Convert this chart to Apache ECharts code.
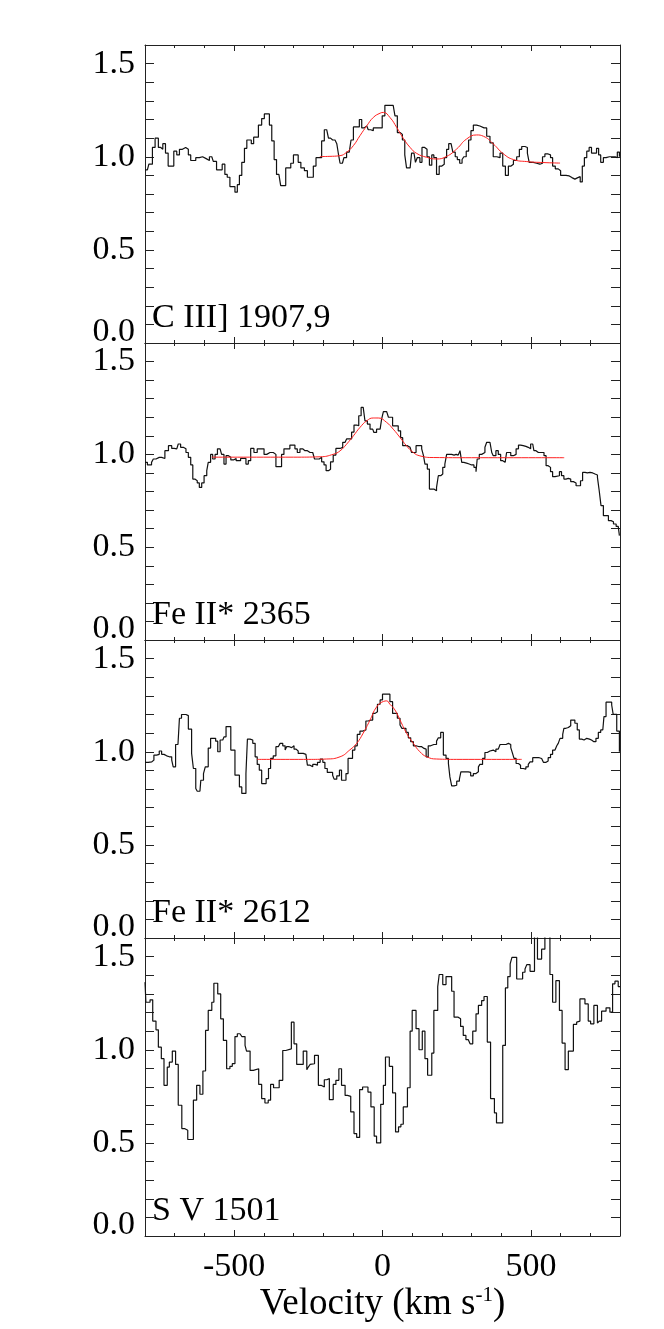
<!DOCTYPE html>
<html>
<head>
<meta charset="utf-8">
<script src="https://cdn.jsdelivr.net/npm/echarts@6/dist/echarts.min.js"></script>
<style>html,body{margin:0;padding:0;background:#fff;}#c{width:664px;height:1329px;}</style>
</head>
<body>
<div id="c"></div>
<script>
// ---------- DATA ----------
const panelLabels = ['C III] 1907,9', 'Fe II* 2365', 'Fe II* 2612', 'S V 1501'];
const xTickLabels = [-500, 0, 500];
const yTickLabels = [0, 0.5, 1.0, 1.5];

const p1Vel = [-800,-792,-787,-775,-766,-755,-747,-740,-731,-722,-710,-703,-693,-684,-674,-663,-654,-646,-637,-629,-617,-606,-594,-583,-575,-570,-559,-547,-540,-531,-523,-514,-505,-497,-489,-482,-474,-465,-457,-449,-442,-434,-426,-418,-407,-398,-389,-381,-373,-365,-357,-349,-343,-334,-326,-317,-309,-300,-291,-284,-275,-263,-253,-242,-233,-224,-213,-205,-196,-188,-182,-175,-168,-160,-154,-149,-143,-135,-130,-121,-112,-106,-98,-87,-78,-70,-62,-53,-48,-40,-31,-17,-8,-1,8,23,36,42,50,59,67,75,81,93,98,106,111,117,126,133,142,150,158,166,173,182,191,200,208,216,223,231,237,245,252,260,268,274,282,290,298,306,317,328,342,351,362,373,385,396,405,414,424,433,441,452,461,469,480,488,494,508,519,530,539,547,558,566,573,582,592,600,609,618,629,638,648,658,666,673,680,688,696,704,712,721,728,735,744,753,764,775,784,791,798];
const p1Flux = [0.93,0.92,0.96,1.05,1.10,1.05,1.04,1.07,1.02,0.95,0.95,1.03,1.01,1.04,1.05,1.04,1.01,0.98,0.98,0.995,1.0,0.99,0.98,1.0,1.0,0.975,0.93,0.93,0.96,0.905,0.89,0.84,0.84,0.81,0.85,0.90,0.97,1.045,1.09,1.09,1.07,1.105,1.105,1.17,1.205,1.23,1.23,1.17,1.085,0.985,0.905,0.905,0.845,0.845,0.94,0.94,0.965,1.01,1.01,0.97,0.94,0.925,0.89,0.89,0.95,0.995,0.995,1.085,1.145,1.145,1.10,1.09,1.09,1.085,1.07,1.02,0.965,0.965,0.995,1.025,1.025,1.09,1.16,1.16,1.2,1.155,1.165,1.165,1.145,1.14,1.155,1.155,1.155,1.22,1.276,1.276,1.276,1.22,1.13,1.12,1.09,1.01,0.94,0.94,1.02,1.02,0.97,0.995,0.97,1.05,1.04,1.0,0.955,1.01,0.995,0.905,0.95,0.96,0.995,1.04,1.07,1.07,1.025,1.0,0.985,0.965,0.985,1.0,1.03,1.09,1.14,1.17,1.165,1.155,1.155,1.11,1.075,1.0,0.995,1.02,0.95,0.9,0.95,0.96,0.98,1.0,1.04,1.055,1.05,1.02,0.97,0.965,0.96,0.965,1.0,1.015,1.01,0.995,0.95,0.935,0.925,0.9,0.9,0.897,0.888,0.88,0.888,0.893,0.865,0.95,0.995,1.03,1.05,1.02,1.02,1.045,1.01,0.97,0.995,1.0,1.0,1.0,0.995,1.025,1.0];
const p1FitVel = [-211,-180,-143,-121,-98,-76,-53,-31,-8,3,25,48,70,93,115,149,182,216,250,283,317,340,373,407,441,486,540,598];
const p1FitFlux = [1.001,1.002,1.006,1.024,1.06,1.113,1.166,1.211,1.234,1.238,1.211,1.157,1.099,1.05,1.018,0.997,0.988,1.002,1.042,1.095,1.117,1.11,1.069,1.016,0.985,0.974,0.969,0.966];

const p2Vel = [-800,-792,-778,-772,-763,-752,-744,-733,-721,-710,-702,-693,-688,-680,-671,-662,-654,-646,-639,-632,-624,-617,-609,-601,-592,-587,-579,-572,-564,-556,-547,-542,-534,-527,-519,-511,-502,-493,-486,-478,-467,-460,-452,-444,-433,-422,-410,-399,-390,-379,-368,-359,-347,-340,-332,-321,-312,-303,-295,-287,-278,-269,-261,-253,-244,-235,-229,-222,-213,-205,-197,-190,-182,-175,-166,-157,-143,-134,-126,-121,-112,-104,-96,-87,-80,-72,-65,-59,-51,-42,-33,-29,-20,-8,-3,3,14,20,27,34,45,53,61,68,76,84,93,98,106,113,124,132,138,143,151,158,166,173,182,188,196,203,210,216,225,233,241,248,255,261,267,274,283,292,300,308,315,319,326,334,345,351,362,368,373,382,390,398,405,413,418,424,432,441,450,458,465,474,483,491,499,506,510,517,525,536,544,551,558,566,573,581,587,596,603,611,618,626,634,643,652,660,667,674,682,690,699,708,716,724,730,736,744,753,761,770,778,787,794,798];
const p2Flux = [0.957,0.943,0.957,0.975,0.984,0.984,0.978,1.02,1.047,1.032,1.03,1.03,1.056,1.038,1.03,1.01,0.984,0.943,0.867,0.858,0.846,0.822,0.846,0.885,0.912,0.957,1.0,0.975,1.0,1.03,1.038,1.0,0.948,0.993,0.984,0.97,0.978,0.966,0.966,0.978,0.978,0.948,0.966,1.032,1.01,1.03,1.03,1.0,1.01,1.01,1.0,0.934,0.934,1.0,1.03,1.03,1.05,1.05,1.03,1.01,1.03,1.02,1.02,1.01,1.01,1.01,0.975,0.975,0.984,0.96,0.943,0.912,0.92,0.96,0.996,1.032,1.038,1.065,1.065,1.083,1.083,1.12,1.158,1.154,1.208,1.253,1.253,1.18,1.163,1.136,1.136,1.118,1.136,1.136,1.19,1.23,1.23,1.2,1.2,1.154,1.154,1.127,1.09,1.047,1.047,1.038,1.038,1.01,1.01,1.047,1.047,1.03,0.993,0.948,0.921,0.813,0.813,0.804,0.822,0.885,0.894,0.93,0.948,1.0,1.0,0.996,1.0,0.996,1.0,1.02,0.957,0.953,0.948,0.943,0.943,0.93,0.907,0.975,1.0,1.01,1.038,1.065,1.065,1.01,0.993,1.02,1.0,0.966,0.957,0.957,1.01,1.01,0.993,1.0,1.03,1.05,1.047,1.043,1.038,1.03,1.056,1.065,1.02,1.01,1.01,1.01,0.993,0.939,0.93,0.907,0.88,0.876,0.885,0.907,0.885,0.867,0.871,0.867,0.853,0.846,0.831,0.831,0.858,0.903,0.9,0.903,0.9,0.894,0.889,0.876,0.804,0.724,0.67,0.67,0.643,0.637,0.625,0.612,0.607,0.562];
const p2FitVel = [-575,-300,-210,-165,-143,-121,-98,-76,-53,-31,-14,14,36,59,81,104,126,171,300,612];
const p2FitFlux = [0.985,0.985,0.987,1.001,1.019,1.055,1.1,1.145,1.181,1.196,1.196,1.172,1.136,1.091,1.046,1.01,0.992,0.983,0.982,0.982];

const p3Vel = [-800,-789,-777,-770,-761,-752,-744,-736,-727,-718,-710,-705,-697,-689,-684,-677,-669,-662,-654,-648,-643,-637,-629,-624,-615,-612,-603,-597,-587,-579,-570,-562,-555,-547,-538,-534,-527,-518,-511,-505,-497,-489,-482,-474,-467,-460,-455,-446,-437,-429,-422,-415,-407,-399,-392,-384,-377,-368,-359,-351,-345,-336,-328,-323,-314,-306,-298,-291,-284,-276,-267,-258,-253,-244,-235,-227,-219,-210,-201,-194,-186,-177,-168,-163,-154,-145,-138,-130,-123,-116,-110,-101,-93,-85,-76,-67,-56,-48,-40,-33,-25,-17,-8,0,8,16,25,34,42,50,59,65,72,79,87,95,104,113,124,132,140,147,154,162,173,182,188,196,200,205,214,222,227,233,241,250,259,264,272,281,289,297,306,315,323,328,337,345,353,362,373,382,390,396,405,416,424,432,438,443,450,458,465,474,483,491,497,506,517,528,536,542,551,558,566,573,581,587,592,598,607,611,618,626,634,640,648,656,663,671,679,688,697,704,712,719,727,735,742,746,753,764,772,777,783,789,794,798];
const p3Flux = [0.943,0.946,0.955,0.982,0.986,1.004,0.986,0.978,0.973,0.973,0.955,0.919,1.039,1.039,1.18,1.2,1.2,1.194,1.122,1.122,0.991,0.91,0.803,0.788,0.788,0.847,0.883,0.919,1.02,1.072,1.072,1.057,1.0,1.063,1.063,1.08,1.135,1.135,1.009,1.009,0.874,0.874,0.811,0.776,0.776,0.883,1.068,1.063,1.045,0.973,0.932,0.901,0.829,0.829,0.856,0.91,0.964,0.978,1.027,1.027,1.045,1.032,1.009,1.027,1.022,1.032,1.014,1.004,0.991,0.991,0.986,0.982,0.928,0.919,0.932,0.928,0.943,0.96,0.943,0.91,0.889,0.889,0.874,0.853,0.871,0.901,0.847,0.847,0.883,0.964,0.964,1.009,1.032,1.093,1.111,1.117,1.165,1.17,1.17,1.206,1.215,1.255,1.278,1.309,1.309,1.309,1.269,1.206,1.206,1.18,1.144,1.126,1.126,1.104,1.075,1.054,1.032,1.027,1.027,1.018,1.014,0.973,1.032,1.039,1.039,1.057,1.075,1.104,1.104,0.982,0.964,0.937,0.865,0.817,0.82,0.842,0.853,0.892,0.892,0.892,0.889,0.871,0.883,0.892,0.919,0.932,0.964,0.996,1.004,1.009,1.0,1.014,1.022,1.039,1.039,1.045,1.039,1.022,0.991,0.964,0.937,0.928,0.91,0.907,0.919,0.932,0.946,0.968,0.968,0.964,0.955,0.943,0.95,0.968,0.986,1.009,1.014,1.032,1.045,1.072,1.093,1.126,1.13,1.14,1.17,1.17,1.153,1.117,1.068,1.063,1.072,1.068,1.063,1.054,1.054,1.072,1.104,1.117,1.117,1.189,1.266,1.266,1.251,1.201,1.201,1.111,1.111,1.0];
const p3FitVel = [-422,-250,-188,-143,-110,-87,-65,-42,-20,3,14,25,42,59,81,104,126,149,182,250,469];
const p3FitFlux = [0.959,0.959,0.961,0.973,1.01,1.045,1.1,1.17,1.24,1.27,1.273,1.255,1.224,1.17,1.1,1.045,1.0,0.973,0.961,0.959,0.959];

const p4Vel = [-800,-797,-783,-774,-763,-755,-745,-736,-725,-718,-708,-697,-688,-676,-667,-656,-637,-626,-615,-605,-596,-587,-575,-568,-555,-545,-536,-525,-514,-506,-497,-489,-480,-474,-463,-458,-446,-435,-429,-417,-407,-396,-385,-377,-367,-348,-336,-326,-321,-307,-298,-289,-267,-255,-250,-244,-239,-229,-216,-207,-196,-188,-179,-166,-157,-147,-138,-126,-118,-107,-96,-87,-77,-67,-49,-39,-28,-20,-6,3,10,23,34,44,54,62,70,84,93,100,113,123,134,143,152,166,173,186,191,203,214,233,241,255,263,272,281,289,295,304,315,323,334,342,353,364,377,384,405,414,422,430,436,452,472,480,486,497,512,522,536,547,564,573,584,596,605,615,626,643,654,660,665,682,693,701,712,724,730,738,753,766,775,783,794,800];
const p4Flux = [1.363,1.255,1.268,1.154,1.107,1.014,0.952,0.809,0.907,0.934,0.993,0.921,0.702,0.577,0.568,0.518,0.729,0.809,0.761,0.886,1.104,1.211,1.255,1.357,1.3,1.166,1.05,0.898,0.911,0.925,1.071,1.086,1.091,1.071,1.023,0.993,0.889,0.886,0.898,0.814,0.738,0.714,0.729,0.814,0.796,0.836,0.996,0.988,1.005,1.148,1.032,0.921,0.993,0.893,0.907,0.921,0.925,0.97,0.809,0.8,0.839,0.845,0.732,0.814,0.836,0.898,0.809,0.755,0.75,0.666,0.55,0.529,0.786,0.8,0.773,0.693,0.536,0.5,0.707,0.809,0.961,0.911,0.768,0.559,0.586,0.6,0.693,0.796,1.1,1.211,1.113,1.0,1.1,0.952,0.863,0.982,1.211,1.339,1.404,1.35,1.393,1.314,1.175,1.166,1.125,1.077,1.054,1.046,1.032,1.1,1.193,1.238,1.264,1.286,1.041,0.738,0.661,0.607,1.023,1.332,1.393,1.461,1.496,1.38,1.416,1.434,1.457,1.421,1.7,1.487,1.54,1.7,1.404,1.255,1.371,1.211,1.036,0.893,0.993,1.136,1.148,1.154,1.273,1.246,1.154,1.139,1.238,1.143,1.154,1.207,1.225,1.202,1.354,1.368,1.339,1.339];

const spectra = [[p1Vel, p1Flux], [p2Vel, p2Flux], [p3Vel, p3Flux], [p4Vel, p4Flux]];
const fits = [[p1FitVel, p1FitFlux], [p2FitVel, p2FitFlux], [p3FitVel, p3FitFlux], null];

// ---------- LAYOUT ----------
const FONT = '"Liberation Serif", "Times New Roman", serif';
const gridTops = [45, 343, 640, 938];
const gridHeights = [298, 297, 298, 298];
const GL = 145, GW = 475;
const axisCol = '#222';

const chart = echarts.init(document.getElementById('c'), null, {renderer: 'canvas'});

const grids = [], xAxes = [], yAxes = [], series = [], graphics = [];
for (let i = 0; i < 4; i++) {
  grids.push({left: GL, top: gridTops[i], width: GW, height: gridHeights[i], containLabel: false});
  const isLast = i === 3;
  const common = {gridIndex: i, type: 'value', min: -800, max: 800, splitLine: {show: false}};
  xAxes.push(Object.assign({}, common, {
    position: 'bottom', interval: 100,
    axisLine: {show: true, onZero: false, lineStyle: {color: axisCol, width: 1}},
    axisTick: {show: true, inside: true, length: 3, lineStyle: {color: axisCol, width: 1}},
    axisLabel: {show: isLast, margin: 14, fontSize: 34, fontFamily: FONT, color: '#000',
      formatter: v => xTickLabels.indexOf(v) >= 0 ? String(v) : ''},
    name: isLast ? '{a|Velocity (km s}{b|-1}{a|)}' : '',
    nameLocation: 'middle', nameGap: 45,
    nameTextStyle: {rich: {
      a: {fontSize: 37, fontFamily: FONT, color: '#000'},
      b: {fontSize: 21, fontFamily: FONT, color: '#000', padding: [0, 0, 17, 0]}
    }}
  }));
  xAxes.push(Object.assign({}, common, {
    position: 'bottom',
    axisLine: {show: false, onZero: false},
    axisTick: {show: true, inside: true, length: 6, customValues: xTickLabels, lineStyle: {color: axisCol, width: 1}},
    axisLabel: {show: false}
  }));
  xAxes.push(Object.assign({}, common, {
    position: 'top', interval: 100,
    axisLine: {show: true, onZero: false, lineStyle: {color: axisCol, width: 1}},
    axisTick: {show: true, inside: true, length: 3, lineStyle: {color: axisCol, width: 1}},
    axisLabel: {show: false}
  }));
  xAxes.push(Object.assign({}, common, {
    position: 'top',
    axisLine: {show: false, onZero: false},
    axisTick: {show: true, inside: true, length: 6, customValues: xTickLabels, lineStyle: {color: axisCol, width: 1}},
    axisLabel: {show: false}
  }));
  const ycommon = {gridIndex: i, type: 'value', min: 0, max: 1.6, interval: 0.1, splitLine: {show: false}};
  yAxes.push(Object.assign({}, ycommon, {
    position: 'left',
    axisLine: {show: true, onZero: false, lineStyle: {color: axisCol, width: 1}},
    axisTick: {show: true, inside: true, length: 9, lineStyle: {color: axisCol, width: 1}},
    axisLabel: {show: true, margin: 10, fontSize: 34, fontFamily: FONT, color: '#000',
      formatter: v => {
        const hit = yTickLabels.find(t => Math.abs(t - v) < 1e-6);
        if (hit === undefined) return '';
        if (hit === 0) return '{z|0.0}';
        return hit.toFixed(1);
      },
      rich: {z: {fontSize: 34, fontFamily: FONT, color: '#000', padding: [0, 0, 22, 0]}}
    }
  }));
  yAxes.push(Object.assign({}, ycommon, {
    position: 'right',
    axisLine: {show: true, onZero: false, lineStyle: {color: axisCol, width: 1}},
    axisTick: {show: true, inside: true, length: 9, lineStyle: {color: axisCol, width: 1}},
    axisLabel: {show: false}
  }));

  const [vel, flux] = spectra[i];
  series.push({
    type: 'line', xAxisIndex: i * 4, yAxisIndex: i * 2,
    data: vel.map((v, k) => [v, flux[k]]),
    step: 'end', symbol: 'none', clip: true, animation: false,
    lineStyle: {color: '#111', width: 1.2}
  });
  if (fits[i]) {
    const [fv, ff] = fits[i];
    series.push({
      type: 'line', xAxisIndex: i * 4, yAxisIndex: i * 2,
      data: fv.map((v, k) => [v, ff[k]]),
      smooth: 0.5, symbol: 'none', clip: true, animation: false, z: 3,
      lineStyle: {color: '#ff2020', width: 1}
    });
  }
  graphics.push({
    type: 'text', left: 152, top: gridTops[i] + gridHeights[i] - 42,
    style: {text: panelLabels[i], fontSize: 34, fontFamily: FONT, fill: '#000'}
  });
}

chart.setOption({
  backgroundColor: '#fff',
  animation: false,
  grid: grids, xAxis: xAxes, yAxis: yAxes, series: series,
  graphic: graphics
});
</script>
</body>
</html>
